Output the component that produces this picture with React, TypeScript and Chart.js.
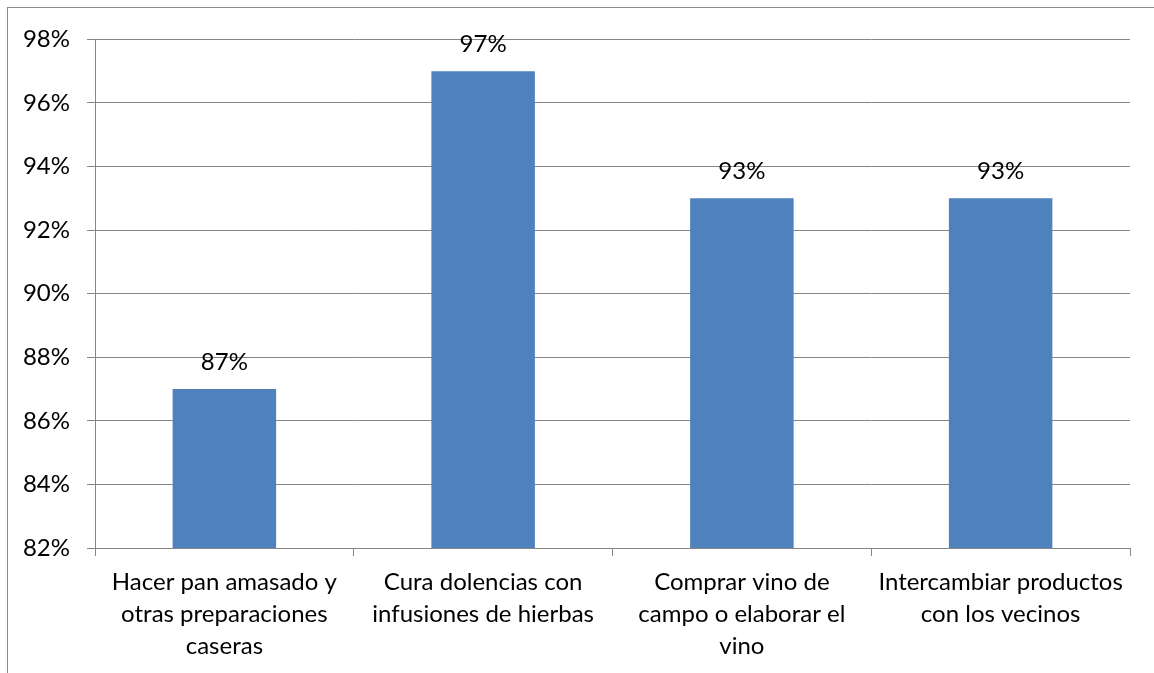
import React, { useEffect, useRef } from "react";
import { Chart, registerables } from "chart.js";

Chart.register(...registerables);

const categories: string[][] = [
  ["Hacer pan amasado y", "otras preparaciones", "caseras"],
  ["Cura dolencias con", "infusiones de hierbas"],
  ["Comprar vino de", "campo o elaborar el", "vino"],
  ["Intercambiar productos", "con los vecinos"],
];
const values: number[] = [87, 97, 93, 93];
const yMin = 82;
const yMax = 98;
const yStep = 2;

const FONT = "Lato, 'Liberation Sans', sans-serif";

const dataLabels = {
  id: "dataLabels",
  afterDatasetsDraw(chart: any) {
    const ctx = chart.ctx;
    const meta = chart.getDatasetMeta(0);
    ctx.save();
    ctx.font = `24px ${FONT}`;
    ctx.fillStyle = "#000";
    ctx.textAlign = "center";
    ctx.textBaseline = "middle";
    meta.data.forEach((bar: any, i: number) => {
      ctx.fillText(values[i] + "%", bar.x, bar.y - 27);
    });
    ctx.restore();
  },
};

export default function App() {
  const ref = useRef<HTMLCanvasElement | null>(null);
  useEffect(() => {
    document.body.style.margin = "0";
    const chart = new Chart(ref.current!, {
      type: "bar",
      data: {
        labels: categories,
        datasets: [
          {
            data: values,
            backgroundColor: "#4F81BD",
            barPercentage: 0.4,
            categoryPercentage: 1,
          },
        ],
      },
      options: {
        animation: false,
        responsive: false,
        maintainAspectRatio: false,
        layout: { padding: { left: 0, top: 29, right: 24, bottom: 0 } },
        plugins: { legend: { display: false }, tooltip: { enabled: false } },
        scales: {
          x: {
            grid: {
              offset: true,
              drawOnChartArea: false,
              color: "#868686",
              tickLength: 8,
            },
            border: { color: "#868686" },
            ticks: {
              color: "#000",
              font: { family: FONT, size: 24, lineHeight: 1.33 },
              padding: 10,
              maxRotation: 0,
              autoSkip: false,
            },
            afterFit: (s: any) => {
              s.height = 125;
            },
          },
          y: {
            min: yMin,
            max: yMax,
            grid: { color: "#868686", tickLength: 8 },
            border: { color: "#868686" },
            ticks: {
              stepSize: yStep,
              color: "#000",
              font: { family: FONT, size: 24 },
              padding: 17,
              callback: (v: any) => v + "%",
            },
            afterFit: (s: any) => {
              s.width = 87;
            },
          },
        },
      },
      plugins: [dataLabels],
    });
    return () => chart.destroy();
  }, []);
  return (
    <div
      style={{
        position: "absolute",
        left: 7,
        top: 7,
        width: 1147,
        height: 666,
        borderTop: "1px solid #8c8c8c",
        borderLeft: "1px solid #8c8c8c",
        background: "#fff",
      }}
    >
      <canvas ref={ref} width={1146} height={665} style={{ display: "block" }} />
    </div>
  );
}
